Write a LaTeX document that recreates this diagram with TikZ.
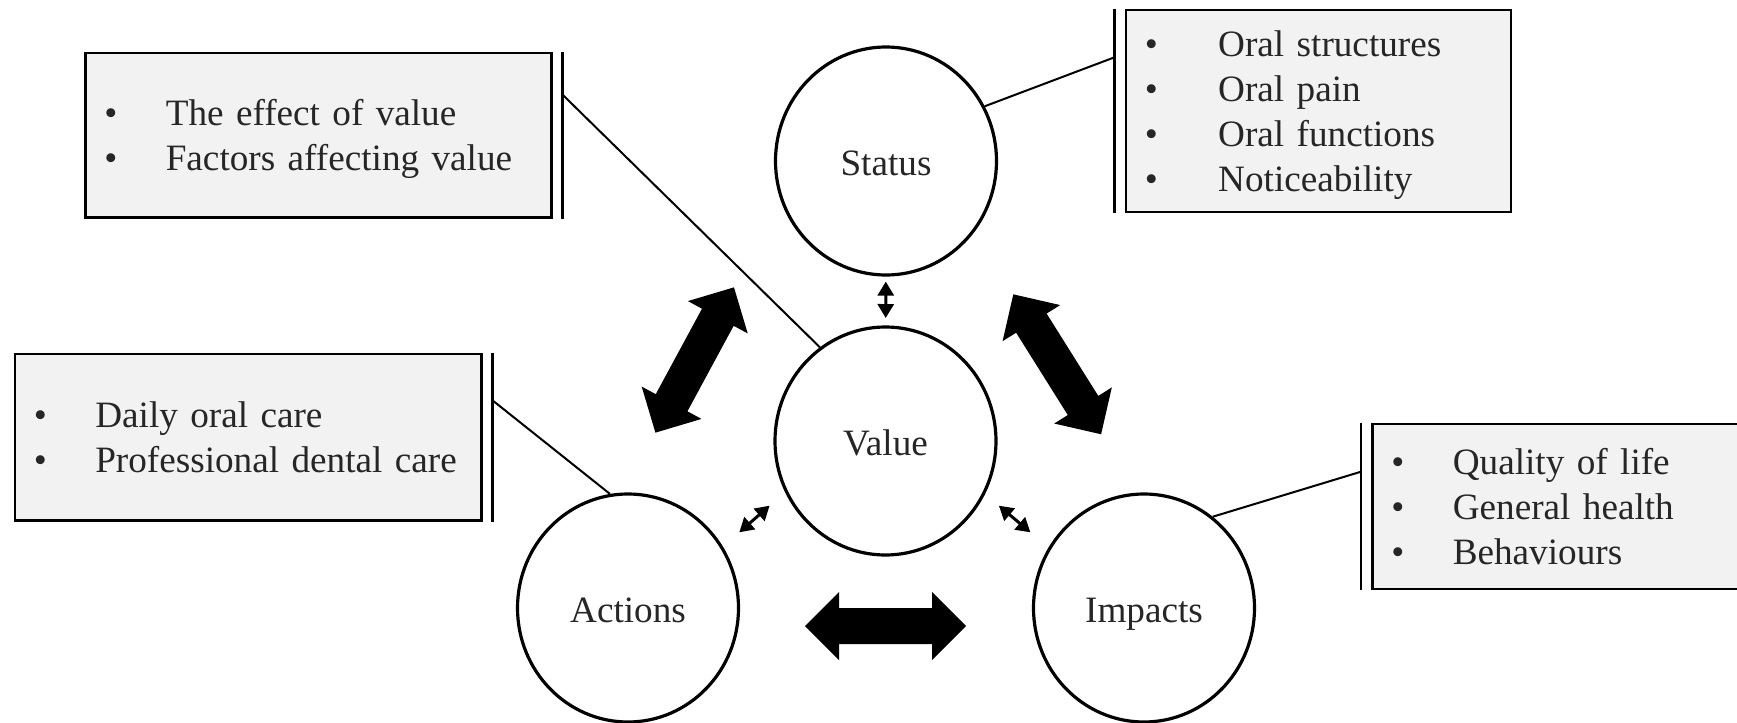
\documentclass[tikz,border=0pt]{standalone}
\usepackage{fontspec}
\setmainfont{Liberation Serif}
\usetikzlibrary{shapes.geometric,arrows.meta}
\definecolor{boxgray}{gray}{0.949}
\definecolor{textgray}{gray}{0.15}
\tikzset{
  bubble/.style = {ellipse, draw, line width=1.6pt, fill=white,
                   minimum width=110.5pt, minimum height=114pt,
                   inner sep=0pt, text=textgray,
                   text height=14.5pt, text depth=0pt},
  listbox/.style = {rectangle, draw, line width=1.3pt, fill=boxgray,
                    anchor=north west, inner xsep=9.5pt, inner ysep=0pt,
                    align=left, text=textgray},
  pics/blockarrow/.style = {code={
    \fill (-#1,0pt) -- ++(17pt,17pt) -- ++(0pt,-8pt) -- (#1-17pt,9pt) -- ++(0pt,8pt)
          -- (#1,0pt) -- ++(-17pt,-17pt) -- ++(0pt,8pt) -- (-#1+17pt,-9pt) -- ++(0pt,-8pt) -- cycle;
  }},
  smallarrow/.style = {{Triangle[width=8pt,length=7pt]}-{Triangle[width=8pt,length=7pt]},
                       line width=1.5pt},
  leader/.style = {line width=1pt},
  sidebar/.style = {line width=1.3pt}
}
\newcommand{\bul}[1]{\makebox[#1][l]{\textbullet}}
\newcommand{\nodepth}[1]{\raisebox{0pt}[\height][0pt]{#1}}

\begin{document}
\begin{tikzpicture}[x=0.5pt, y=-0.5pt, font=\fontsize{18.6}{22.5}\selectfont]
	\def \gap{5pt}
	\def \tab{30.75pt}
	\useasboundingbox (0,0) rectangle (1737,723);

	% Circles
	\node[bubble] (status)  at (886,161)   {Status};
	\node[bubble] (value)   at (885.5,441) {Value};
	\node[bubble] (actions) at (628,608)   {Actions};
	\node[bubble] (impacts) at (1144,608)  {Impacts};

	% Boxes
	\node[listbox, minimum height=82.3pt, text width=214pt] (tlbox) at (84,51.5)
		{\bul{\tab}The effect of value\\ \bul{\tab}\nodepth{Factors affecting value}};
	\node[listbox, minimum height=101pt, text width=173.5pt] (trbox) at (1124.5,8.5)
		{\bul{36.7pt}Oral structures\\ \bul{36.7pt}Oral pain\\ \bul{36.7pt}Oral functions\\ \bul{36.7pt}\nodepth{Noticeability}};
	\node[listbox, minimum height=83.3pt, text width=214.3pt] (mlbox) at (13.5,352.5)
		{\bul{\tab}Daily oral care\\ \bul{\tab}\nodepth{Professional dental care}};
	\node[listbox, minimum height=82.5pt, text width=171pt] (rbox) at (1371,422.5)
		{\bul{\tab}Quality of life\\ \bul{\tab}General health\\ \bul{\tab}\nodepth{Behaviours}};

	% Side bars
	\draw[sidebar] ([xshift=\gap]tlbox.north east) -- ([xshift=\gap]tlbox.south east);
	\draw[sidebar] ([xshift=-\gap]trbox.north west) -- ([xshift=-\gap]trbox.south west);
	\draw[sidebar] ([xshift=\gap]mlbox.north east) -- ([xshift=\gap]mlbox.south east);
	\draw[sidebar] ([xshift=-\gap]rbox.north west) -- ([xshift=-\gap]rbox.south west);

	% Leaders
	\coordinate (tlpin) at ([xshift=\gap, yshift=-21.6pt]tlbox.north east);
	\coordinate (trpin) at ([xshift=-\gap, yshift=-24.4pt]trbox.north west);
	\coordinate (mlpin) at ([xshift=\gap, yshift=-24pt]mlbox.north east);
	\coordinate (rpin)  at ([xshift=-\gap, yshift=-24.6pt]rbox.north west);
	\draw[leader] (tlpin) -- (value.125);
	\draw[leader] (trpin) -- (status.29);
	\draw[leader] (mlpin) -- (actions.99);
	\draw[leader] (rpin)  -- (impacts.53);

	% Block arrows
	\pic[rotate=61.6]  at (694.7,360)   {blockarrow=41.3pt};  % actions - status
	\pic[rotate=-57.9] at (1057.2,364.3) {blockarrow=41.3pt}; % status - impacts
	\pic               at (885.5,626)   {blockarrow=40.25pt}; % actions - impacts

	% Small arrows
	\coordinate (va1) at (769.6,505.7);
	\coordinate (va2) at (739.3,532.3);
	\coordinate (vi1) at (998.9,505.7);
	\coordinate (vi2) at (1030.4,532.3);
	\draw[smallarrow, shorten <=2.5pt, shorten >=3.7pt] (status) -- (value);
	\draw[smallarrow] (va1) -- (va2);
	\draw[smallarrow] (vi1) -- (vi2);

\end{tikzpicture}
\end{document}
